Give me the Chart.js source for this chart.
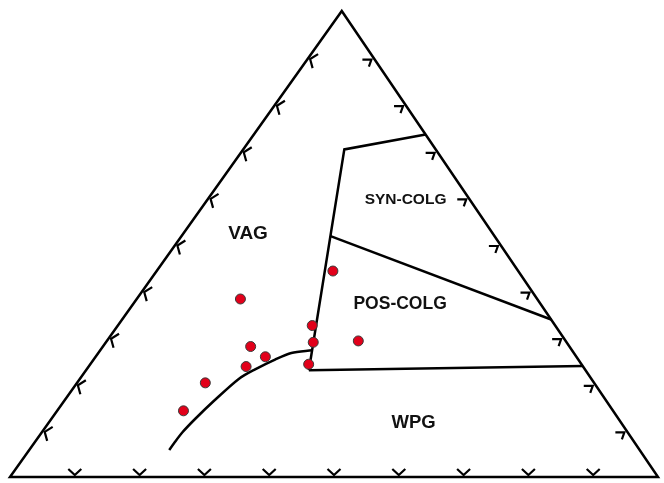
<!DOCTYPE html>
<html>
<head>
<meta charset="utf-8">
<script src="https://cdn.jsdelivr.net/npm/chart.js@4"></script>
<style>
  html, body { margin: 0; padding: 0; background: #fff; }
  #wrap { width: 664px; height: 483px; }
</style>
</head>
<body>
<div id="wrap"><canvas id="ternary" width="664" height="483"></canvas></div>
<script>
// --- 1. DATA (ternary %, order: Rb/30 (top), Hf (left), Ta*3 (right)) ---
const sampleRb = [44.2, 38.2, 32.5, 28.9, 28.0, 25.8, 23.7, 24.2, 20.2, 14.2, 29.2];
const sampleHf = [28.6, 45.8, 37.5, 39.1, 49.2, 48.0, 52.0, 42.1, 60.0, 66.3, 32.0];
const sampleTa = [27.2, 16.0, 30.0, 32.0, 22.8, 26.2, 24.3, 33.7, 19.8, 19.5, 38.8];

const frame = [[0, 100, 0], [0, 0, 100], [100, 0, 0], [0, 100, 0], [0, 0, 100]];
const synColgLine = [[73.5, 0, 26.5], [70.3, 14.1, 15.6], [22.9, 42.7, 34.4]];
const posColgLine = [[51.7, 25.3, 23.0], [33.8, 0, 66.2]];
const wpgLine = [[22.9, 42.7, 34.4], [23.8, 0, 76.2]];
const vagCurve = [
    [27.2, 40.1, 32.7], [26.6, 43.6, 29.8], [25.2, 46.8, 28.0], [23.1, 50.9, 26.0],
    [21.0, 54.5, 24.5], [16.3, 60.6, 23.1], [12.5, 65.3, 22.2], [9.6, 68.7, 21.7],
    [7.2, 71.2, 21.6], [5.8, 72.6, 21.6]
];
const tickSteps = [10, 20, 30, 40, 50, 60, 70, 80, 90];

// the triangle in the picture is squashed, apex a bit right of centre
const APEX_X = 0.512;
function toXY(top, left, right) {
    const s = top + left + right;
    const t = top / s, r = right / s;
    return { x: r + t * APEX_X, y: t };
}
const toLine = arr => arr.map(p => toXY(p[0], p[1], p[2]));

const samplePoints = sampleRb.map((rb, i) => toXY(rb, sampleHf[i], sampleTa[i]));

// --- 2. DECORATION PLUGINS ---
const tickMarks = {
    id: 'tickMarks',
    afterDatasetsDraw(chart) {
        const { ctx, scales: { x, y } } = chart;
        const px = p => ({ x: x.getPixelForValue(p.x), y: y.getPixelForValue(p.y) });
        const draw = (p, off, arms) => {
            const vx = p.x + off[0], vy = p.y + off[1];
            ctx.beginPath();
            ctx.moveTo(vx + arms[0][0], vy + arms[0][1]);
            ctx.lineTo(vx, vy);
            ctx.lineTo(vx + arms[1][0], vy + arms[1][1]);
            ctx.stroke();
        };
        ctx.save();
        ctx.strokeStyle = '#000';
        ctx.lineWidth = 2.2;
        ctx.lineJoin = 'miter';
        tickSteps.forEach(k => {
            draw(px(toXY(k, 100 - k, 0)), [1.5, 1.5], [[8, -5], [2.5, 9]]);
            draw(px(toXY(k, 0, 100 - k)), [-2, 2], [[-9, 0], [-2.5, 7]]);
            draw(px(toXY(0, 100 - k, k)), [0, -2], [[-6.5, -6], [6.5, -6]]);
        });
        ctx.restore();
    }
};

const fieldLabels = {
    id: 'fieldLabels',
    afterDatasetsDraw(chart, args, opts) {
        const { ctx, scales: { x, y } } = chart;
        ctx.save();
        ctx.fillStyle = '#111';
        ctx.textAlign = 'center';
        ctx.textBaseline = 'middle';
        opts.items.forEach(l => {
            ctx.font = `bold ${l.size}px "Liberation Sans", Arial, sans-serif`;
            ctx.fillText(l.text, x.getPixelForValue(l.x), y.getPixelForValue(l.y));
        });
        ctx.restore();
    }
};

// --- 3. CHART ---
const lineStyle = {
    showLine: true,
    borderColor: '#000',
    borderWidth: 2.5,
    pointRadius: 0,
    fill: false,
    tension: 0,
    clip: false,
    borderJoinStyle: 'miter'
};

const ctx = document.getElementById('ternary').getContext('2d');
const chart = new Chart(ctx, {
    type: 'scatter',
    data: {
        datasets: [
            {
                label: 'Samples',
                data: samplePoints,
                backgroundColor: '#e2001a',
                borderColor: '#3a3a3a',
                borderWidth: 1,
                pointRadius: 5,
                clip: false,
                order: 0
            },
            { label: 'frame', data: toLine(frame), ...lineStyle, order: 1 },
            { label: 'syn-COLG', data: toLine(synColgLine), ...lineStyle, order: 1 },
            { label: 'post-COLG', data: toLine(posColgLine), ...lineStyle, order: 1 },
            { label: 'WPG', data: toLine(wpgLine), ...lineStyle, order: 1 },
            { label: 'VAG', data: toLine(vagCurve), ...lineStyle, tension: 0.3, order: 1 }
        ]
    },
    options: {
        responsive: false,
        animation: false,
        devicePixelRatio: 1,
        layout: { padding: { left: 10, right: 2, top: 11, bottom: 1 } },
        scales: {
            x: { type: 'linear', min: 0, max: 1, display: false },
            y: { type: 'linear', min: 0, max: 1, display: false }
        },
        plugins: {
            legend: { display: false },
            tooltip: { enabled: false },
            fieldLabels: {
                items: [
                    { text: 'VAG', x: 0.3673, y: 0.5223, size: 19 },
                    { text: 'SYN-COLG', x: 0.6104, y: 0.596, size: 15.5 },
                    { text: 'POS-COLG', x: 0.602, y: 0.3705, size: 17.5 },
                    { text: 'WPG', x: 0.6227, y: 0.1168, size: 18.5 }
                ]
            }
        }
    },
    plugins: [tickMarks, fieldLabels]
});
</script>
</body>
</html>
